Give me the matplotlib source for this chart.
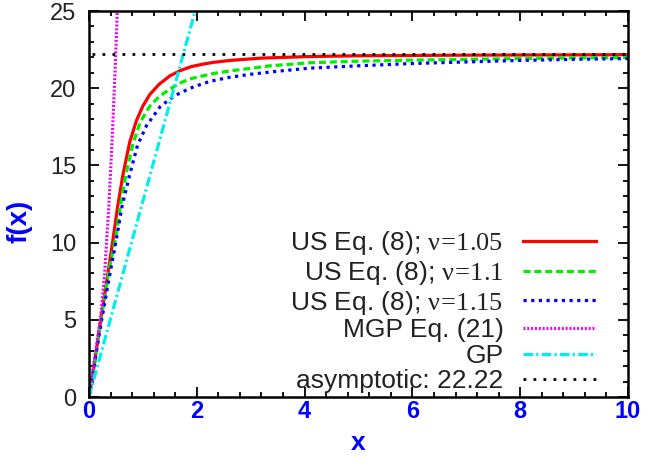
import matplotlib
matplotlib.use("Agg")
import matplotlib.pyplot as plt

plt.rcParams['font.family'] = ['Liberation Sans', 'DejaVu Sans']
plt.rcParams['mathtext.fontset'] = 'custom'
plt.rcParams['mathtext.rm'] = 'Liberation Serif'
plt.rcParams['mathtext.it'] = 'Liberation Serif'

# values
red_x = [0, 0.09, 0.21, 0.36, 0.445, 0.53, 0.63, 0.755, 0.88, 1.0, 1.13, 1.3, 1.5,
         1.7, 1.9, 2.1, 2.3, 2.62, 3.2, 4.1, 5, 6, 7, 8, 9, 10]
red_y = [0, 1.9, 4.8, 8.2, 10.2, 12.3, 14.4, 16.5, 17.9, 18.85, 19.6, 20.25, 20.8,
         21.15, 21.4, 21.55, 21.67, 21.8, 21.95, 22.05, 22.1, 22.12, 22.14, 22.15, 22.16, 22.17]

green_x = [0, 0.09, 0.21, 0.37, 0.49, 0.58, 0.69, 0.815, 0.95, 1.13, 1.3, 1.5, 1.7,
           1.87, 2.3, 2.62, 3.36, 4.1, 5, 6, 7, 8, 9, 10]
green_y = [0, 1.9, 4.7, 8.2, 10.2, 12.3, 14.5, 16.4, 17.8, 18.85, 19.45, 19.95, 20.35,
           20.6, 20.95, 21.12, 21.45, 21.65, 21.75, 21.82, 21.87, 21.92, 21.96, 22.0]

blue_x = [0, 0.09, 0.22, 0.40, 0.507, 0.61, 0.755, 0.9, 1.07, 1.32, 1.5, 1.69, 1.95,
          2.25, 2.6, 2.99, 3.5, 4.1, 5, 6, 7, 8, 9, 10]
blue_y = [0, 1.9, 4.7, 8.2, 10.2, 12.3, 14.4, 16.3, 17.6, 18.8, 19.3, 19.7, 20.1,
          20.45, 20.7, 20.9, 21.1, 21.3, 21.45, 21.6, 21.7, 21.8, 21.87, 21.92]

mgp_x = [0, 0.075, 0.15, 0.22, 0.29, 0.365, 0.43, 0.48, 0.525]
mgp_y = [0, 1.8, 3.6, 5.3, 8.0, 12.2, 16.7, 20.8, 25.0]

gp_x = [0, 1.97]
gp_y = [0, 25.0]

asym = 22.22

labels = ['US Eq. (8); $\\nu\\!=\\!1.05$',
          'US Eq. (8); $\\nu\\!=\\!1.1$',
          'US Eq. (8); $\\nu\\!=\\!1.15$',
          'MGP Eq. (21)',
          'GP',
          'asymptotic: 22.22']

fig = plt.figure(figsize=(6.48, 4.67), dpi=100)
ax = fig.add_axes([89/648, 70/467, 539/648, 386/467])

ax.plot(red_x, red_y, color='#ff0000', lw=2.3, label=labels[0])
ax.plot(green_x, green_y, color='#00ee00', lw=2.3, ls=(0, (2.2, 1.2)), label=labels[1])
ax.plot(blue_x, blue_y, color='#0000ff', lw=2.3, ls=(0, (1, 1.4)), label=labels[2])
ax.plot(mgp_x, mgp_y, color='#ee00ee', lw=2.3, ls=(0, (0.6, 0.6)), label=labels[3])
ax.plot(gp_x, gp_y, color='#00eeee', lw=2.3, ls=(0, (3, 1, 0.7, 1)), label=labels[4])
ax.axhline(asym, xmin=0.005, color='black', lw=2.0, ls=(0, (1, 2.6)), label=labels[5])

ax.set_xlim(0, 10)
ax.set_ylim(0, 25)
ax.set_xticks([0, 2, 4, 6, 8, 10])
ax.set_yticks([0, 5, 10, 15, 20, 25])
ax.set_xticks([i * 0.4 for i in range(26)], minor=True)
ax.set_yticks(range(26), minor=True)
ax.tick_params(which='both', direction='in', top=True, right=True, width=1.3)
ax.tick_params(which='major', length=7)
ax.tick_params(which='minor', length=3.5)
ax.tick_params(axis='x', pad=2, labelsize=17, labelcolor='#0000ff')
ax.tick_params(axis='y', pad=9, labelsize=17, labelcolor='#222222')
for lab in ax.get_xticklabels():
    lab.set_fontweight('bold')
for s in ax.spines.values():
    s.set_linewidth(1.8)

ax.set_xlabel('x', fontsize=19, fontweight='bold', color='#0000ff', labelpad=6)
ax.set_ylabel('f(x)', fontsize=20, fontweight='bold', color='#0000ff')
ax.yaxis.set_label_coords(-0.105, 0.455)

ax.legend(loc='lower right', bbox_to_anchor=(0.96, -0.018), frameon=False,
          markerfirst=False, fontsize=19, handlelength=2.75, handletextpad=0.75,
          labelspacing=0.06, borderaxespad=0.0, labelcolor='#222222')

fig.savefig('out.png', dpi=100)
